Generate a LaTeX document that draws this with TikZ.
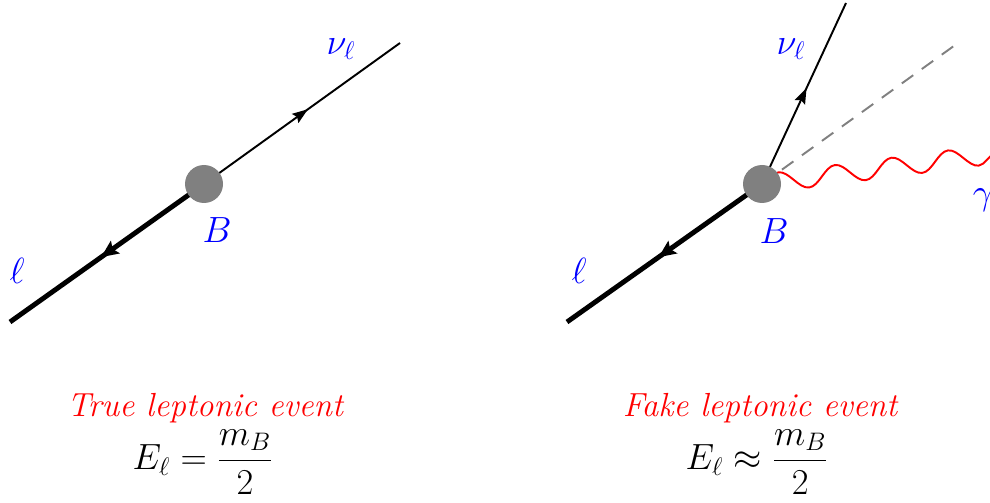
\documentclass[tikz,border=0pt]{standalone}
\usepackage{amsmath}
\usetikzlibrary{arrows.meta,positioning,backgrounds,decorations.markings,decorations.pathmorphing}
\definecolor{blobgray}{RGB}{128,128,128}

\begin{document}
\begin{tikzpicture}[
    blob/.style={circle, fill=blobgray, minimum size=0.76cm, inner sep=0pt},
    lepton/.style={line width=2.8pt, postaction={decorate}, decoration={markings,
        mark=at position 0.53 with {\arrow{Stealth[length=10pt,width=9pt,inset=2pt,line width=0pt]}}}},
    neutrino/.style={line width=1.1pt, postaction={decorate}, decoration={markings,
        mark=at position 0.53 with {\arrow{Stealth[length=9pt,width=6.5pt,inset=1.5pt,line width=0pt]}}}},
    photon/.style={red, line width=1.1pt, decorate, decoration={snake, segment length=1.14cm, amplitude=0.19cm}},
    scalar/.style={blobgray, line width=1.1pt, dash pattern=on 8pt off 6pt},
    lbl/.style={blue, font=\fontsize{20.5}{24}\selectfont},
    caption/.style={red, inner sep=1pt, font=\fontsize{19}{23}\selectfont\itshape},
    energy/.style={inner sep=1pt, font=\fontsize{19.8}{24}\selectfont}]
  \useasboundingbox (0,0) rectangle (19.8,10.04);
  % true event: back to back
  \node[blob] (blobL) at (4.08,6.36) {};
  \coordinate (lepL) at (0.2,3.6);
  \coordinate (nuL) at (8.0,9.18);
  \begin{scope}[on background layer]
    \draw[lepton] (blobL.center) -- (lepL);
    \draw[neutrino] (blobL.center) -- (nuL);
  \end{scope}
  \node[lbl] (nuLbl) at (6.82,9.06) {$\nu_\ell$};
  \node[lbl] (bLbl) at (4.34,5.44) {$B$};
  \node[lbl] (lepLbl) at (0.34,4.62) {$\ell$};
  \node[caption] (trueTxt) at (4.1,1.88) {True leptonic event};
  \node[energy] (trueE) at (4.06,0.8) {$E_\ell = \dfrac{m_B}{2}$};
  % fake event: extra photon
  \node[blob] (blobR) at (15.24,6.36) {};
  \coordinate (lepR) at (11.34,3.6);
  \coordinate (nuR) at (16.92,9.98);
  \coordinate (dashR) at (19.16,9.18);
  \coordinate (gamR) at (20.2,7.0);
  \begin{scope}[on background layer]
    \draw[lepton] (blobR.center) -- (lepR);
    \draw[neutrino] (blobR.center) -- (nuR);
    \draw[scalar] (blobR.center) -- (dashR);
    \draw[photon] (blobR.center) -- (gamR);
  \end{scope}
  \node[lbl] (nuLbl2) at (15.82,9.06) {$\nu_\ell$};
  \node[lbl] (bLbl2) at (15.48,5.42) {$B$};
  \node[lbl] (lepLbl2) at (11.58,4.62) {$\ell$};
  \node[lbl] (gamLbl) at (19.66,6.04) {$\gamma$};
  \node[caption] (fakeTxt) at (15.2,1.88) {Fake leptonic event};
  \node[energy] (fakeE) at (15.14,0.8) {$E_\ell \approx \dfrac{m_B}{2}$};
\end{tikzpicture}
\end{document}
